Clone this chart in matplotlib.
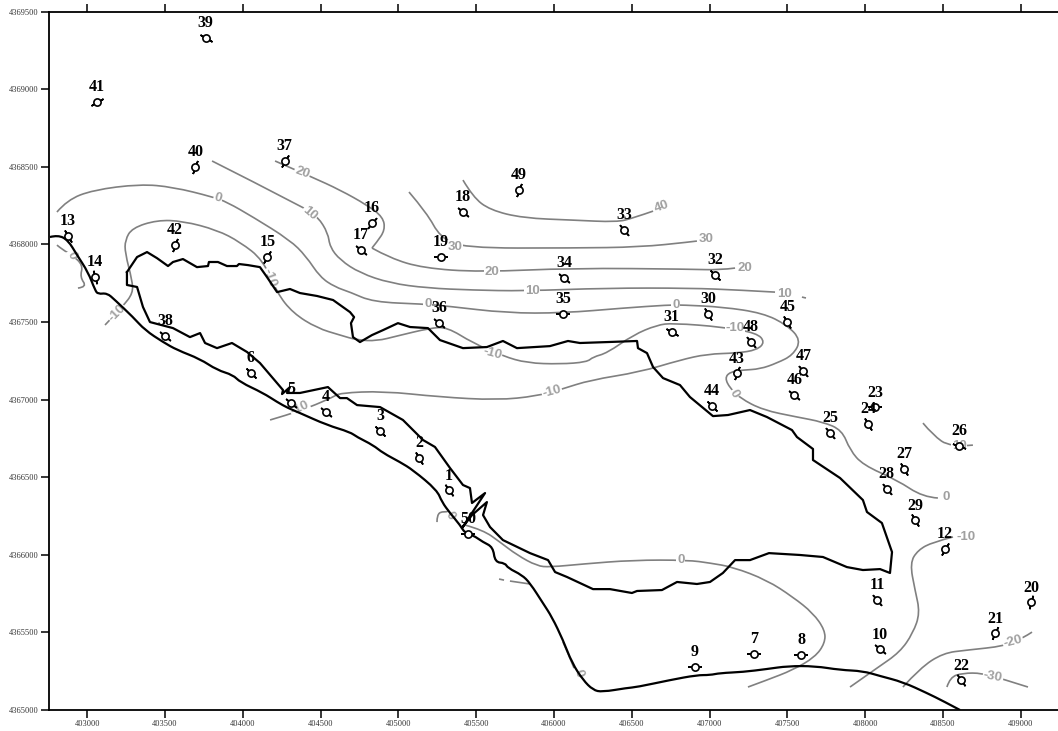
import matplotlib
matplotlib.use('Agg')
import matplotlib.pyplot as plt
from matplotlib.path import Path
from matplotlib.patches import PathPatch

# wells: number, easting, northing, tilt of the well symbol in degrees
well_id = [39, 41, 40, 37, 13, 14, 42, 15, 16, 17, 18, 19, 49, 33, 34, 32, 35, 36, 30, 31, 48, 45, 43, 47, 46,
           44, 25, 24, 23, 26, 27, 28, 29, 12, 11, 10, 20, 21, 22, 7, 8, 9, 50, 1, 2, 3, 4, 5, 6, 38]
well_e = [403760, 403062, 403695, 404268, 402876, 403050, 403564, 404158, 404830, 404759, 405415, 405274, 405772,
          406453, 406064, 407035, 406058, 405260, 406990, 406757, 407264, 407500, 407174, 407603, 407545,
          407016, 407776, 408020, 408063, 408603, 408252, 408139, 408320, 408513, 408078, 408097, 409066,
          408835, 408616, 407288, 407588, 406904, 405447, 405325, 405134, 404881, 404532, 404309, 404050, 403501]
well_n = [4369330, 4368921, 4368502, 4368538, 4368054, 4367790, 4367996, 4367919, 4368138, 4367964, 4368209,
          4367919, 4368351, 4368096, 4367787, 4367803, 4367552, 4367494, 4367552, 4367438, 4367373, 4367502,
          4367170, 4367186, 4367030, 4366959, 4366787, 4366843, 4366951, 4366701, 4366555, 4366424, 4366222,
          4366039, 4365709, 4365391, 4365694, 4365494, 4365191, 4365361, 4365354, 4365279, 4366136, 4366416,
          4366624, 4366798, 4366920, 4366976, 4367174, 4367412]
well_tilt = [60, -60, -20, -30, 30, 15, -20, -30, -40, 50, 50, 90, -20, 40, 50, 45, 90, 50, 30, 60, 40, 30, -20,
             40, 50, 45, 40, 30, 90, 70, 30, 40, 30, -30, 40, 50, -15, -25, 35, 90, 90, 90, 90, 35, 30, 45, 50,
             50, 45, 50]

# shoreline
coast = [(402760, 4368048), (402812, 4368061), (402876, 4368028), (402934, 4367932), (403005, 4367822),
         (403050, 4367706), (403069, 4367680), (403127, 4367687), (403178, 4367642), (403294, 4367532),
         (403371, 4367448), (403487, 4367371), (403577, 4367320), (403725, 4367262), (403834, 4367191),
         (403937, 4367159), (403982, 4367113), (404130, 4367043), (404220, 4366985), (404290, 4366946),
         (404367, 4366914), (404541, 4366836), (404689, 4366791), (404734, 4366759), (404837, 4366707),
         (404901, 4366656), (405010, 4366598), (405094, 4366546), (405248, 4366417), (405280, 4366340),
         (405332, 4366269), (405396, 4366192), (405428, 4366140), (405479, 4366127), (405544, 4366082),
         (405608, 4366050), (405621, 4365953), (405685, 4365947), (405704, 4365915), (405794, 4365870),
         (405846, 4365818), (405929, 4365689), (405987, 4365599), (406058, 4365451), (406116, 4365303),
         (406187, 4365193), (406251, 4365129), (406309, 4365116), (406469, 4365142), (406534, 4365148),
         (406746, 4365193), (406919, 4365225), (407003, 4365225), (407067, 4365238), (407215, 4365245),
         (407369, 4365264), (407504, 4365283), (407678, 4365283), (407839, 4365258), (407986, 4365251),
         (408096, 4365219), (408243, 4365180), (408398, 4365109), (408501, 4365058), (408610, 4365000)]

# lagoon outline, closed
lagoon = [(403255, 4367822), (403320, 4367919), (403384, 4367951), (403448, 4367912), (403519, 4367861),
          (403551, 4367887), (403615, 4367906), (403705, 4367854), (403776, 4367861), (403782, 4367887),
          (403840, 4367887), (403898, 4367861), (403962, 4367861), (403975, 4367874), (404033, 4367867),
          (404110, 4367854), (404155, 4367790), (404220, 4367693), (404303, 4367713), (404367, 4367687),
          (404477, 4367668), (404580, 4367642), (404689, 4367564), (404715, 4367532), (404695, 4367493),
          (404708, 4367403), (404753, 4367371), (404830, 4367416), (404901, 4367448), (404997, 4367493),
          (405075, 4367468), (405190, 4367461), (405267, 4367384), (405415, 4367332), (405569, 4367339),
          (405672, 4367378), (405762, 4367332), (405974, 4367345), (406090, 4367378), (406167, 4367365),
          (406341, 4367371), (406534, 4367378), (406540, 4367332), (406598, 4367300), (406637, 4367210),
          (406701, 4367139), (406810, 4367094), (406874, 4367017), (407022, 4366894), (407119, 4366901),
          (407260, 4366933), (407369, 4366888), (407530, 4366804), (407562, 4366759), (407665, 4366682),
          (407665, 4366611), (407839, 4366495), (407986, 4366353), (408012, 4366276), (408108, 4366205),
          (408173, 4366018), (408160, 4365883), (408096, 4365908), (407986, 4365902), (407883, 4365921),
          (407729, 4365986), (407581, 4365999), (407382, 4366011), (407260, 4365966), (407164, 4365966),
          (407086, 4365883), (407003, 4365825), (406919, 4365812), (406791, 4365825), (406694, 4365773),
          (406534, 4365767), (406501, 4365754), (406360, 4365779), (406251, 4365779), (406084, 4365857),
          (406007, 4365889), (405962, 4365966), (405846, 4366011), (405672, 4366095), (405589, 4366179),
          (405544, 4366256), (405569, 4366340), (405473, 4366256), (405409, 4366173), (405557, 4366398),
          (405473, 4366334), (405460, 4366430), (405415, 4366450), (405332, 4366559), (405235, 4366695),
          (405158, 4366740), (405029, 4366869), (404882, 4366952), (404734, 4366965), (404669, 4367010),
          (404625, 4367010), (404547, 4367081), (404367, 4367043), (404284, 4367043), (404303, 4367081),
          (404252, 4367036), (404258, 4367062), (404110, 4367236), (404027, 4367307), (403930, 4367365),
          (403834, 4367332), (403757, 4367365), (403725, 4367429), (403660, 4367403), (403551, 4367461),
          (403403, 4367500), (403358, 4367597), (403320, 4367726), (403255, 4367739), (403255, 4367822)]

# contour lines
level_0_north = [(402805, 4368209), (402870, 4368286), (403037, 4368351), (403339, 4368389), (403551, 4368370),
                 (403808, 4368306), (403898, 4368273), (404065, 4368177), (404303, 4368028), (404406, 4367925),
                 (404496, 4367790), (404592, 4367726), (404689, 4367693), (404837, 4367629), (405158, 4367616),
                 (405312, 4367603), (405698, 4367558), (406058, 4367558), (406444, 4367590), (406733, 4367610),
                 (406829, 4367610), (407086, 4367597), (407343, 4367558), (407498, 4367481), (407588, 4367384),
                 (407536, 4367287), (407434, 4367236), (407324, 4367197), (407215, 4367191), (407131, 4367178),
                 (407099, 4367139), (407131, 4367075), (407196, 4367010), (407343, 4366933), (407562, 4366888),
                 (407729, 4366856), (407851, 4366804), (407903, 4366675), (407986, 4366579), (408205, 4366482),
                 (408372, 4366372), (408468, 4366366)]
level_0_south = [(405428, 4366192), (405544, 4366160), (405653, 4366082), (405762, 4365999), (405891, 4365928),
                 (405974, 4365921), (406187, 4365941), (406508, 4365966), (406861, 4365966), (407003, 4365947),
                 (407151, 4365921), (407369, 4365837), (407536, 4365728), (407665, 4365625), (407742, 4365515),
                 (407742, 4365431), (407678, 4365341), (407536, 4365258), (407369, 4365193), (407247, 4365148)]
level_0_west = [(402805, 4367996), (402844, 4367964), (402902, 4367932), (402973, 4367867), (402953, 4367790),
                (402998, 4367726), (402940, 4367719)]
level_0_bay = [(405248, 4366211), (405248, 4366256), (405280, 4366282), (405332, 4366276)]
level_0_shore = [(406058, 4365438), (406090, 4365367), (406129, 4365270)]
level_0_dash1 = [(405647, 4365844), (405679, 4365837)]
level_0_dash2 = [(405717, 4365831), (405846, 4365812)]
level_10 = [(403802, 4368538), (404400, 4368235), (404483, 4368177), (404547, 4368074), (404560, 4367983),
            (404625, 4367900), (404753, 4367816), (404946, 4367751), (405184, 4367719), (405479, 4367706),
            (405801, 4367700), (406341, 4367719), (406874, 4367719), (407196, 4367706), (407421, 4367693)]
level_10_dash = [(407594, 4367661), (407620, 4367655)]
level_10_east = [(408372, 4366849), (408436, 4366772), (408546, 4366694), (408693, 4366707)]
level_20_upper = [(404207, 4368538), (404445, 4368434), (404625, 4368351), (404798, 4368254), (404901, 4368177),
                  (404914, 4368093), (404862, 4368016), (404830, 4367977)]
level_20_lower = [(404830, 4367977), (404946, 4367912), (405158, 4367848), (405524, 4367822), (406122, 4367848),
                  (406874, 4367841), (407067, 4367835), (407164, 4367848)]
level_30 = [(405068, 4368338), (405184, 4368202), (405267, 4368048), (405415, 4367977), (406122, 4367977),
            (406553, 4367983), (406874, 4368016), (406919, 4368022)]
level_40 = [(405415, 4368415), (405479, 4368306), (405589, 4368222), (405801, 4368170), (406122, 4368157),
            (406405, 4368144), (406508, 4368170), (406637, 4368215)]
level_m10 = [(403114, 4367481), (403230, 4367603), (403294, 4367687), (403288, 4367771), (403243, 4367945),
             (403243, 4368028), (403288, 4368106), (403448, 4368157), (403615, 4368151), (403834, 4368093),
             (403982, 4368016), (404130, 4367900), (404220, 4367687), (404322, 4367558), (404477, 4367461),
             (404625, 4367416), (404734, 4367384), (404862, 4367378), (404991, 4367410), (405203, 4367461),
             (405312, 4367468), (405479, 4367365), (405672, 4367281), (405826, 4367236), (406039, 4367229),
             (406212, 4367242), (406251, 4367275), (406341, 4367300), (406508, 4367416), (406662, 4367481),
             (406765, 4367493), (407086, 4367468), (407305, 4367429), (407356, 4367371), (407305, 4367320),
             (407176, 4367300), (406984, 4367294), (406810, 4367255), (406553, 4367178), (406232, 4367126),
             (406052, 4367068), (405891, 4367023), (405634, 4366997), (405267, 4367017), (404901, 4367055),
             (404625, 4367043), (404580, 4367017), (404432, 4366952), (404284, 4366901), (404175, 4366869)]
level_m10_east = [(407903, 4365148), (408076, 4365270), (408224, 4365373), (408308, 4365496), (408353, 4365625),
                  (408321, 4365773), (408288, 4365947), (408340, 4366031), (408436, 4366082), (408565, 4366115)]
level_m20 = [(408243, 4365148), (408353, 4365270), (408501, 4365367), (408655, 4365386), (408899, 4365412),
             (409015, 4365464), (409073, 4365502)]
level_m30 = [(408526, 4365148), (408546, 4365212), (408629, 4365238), (408751, 4365238), (408886, 4365199),
             (409047, 4365148)]

contours = [level_0_north, level_0_south, level_0_west, level_0_bay, level_0_shore, level_0_dash1, level_0_dash2,
            level_10, level_10_dash, level_10_east, level_20_upper, level_20_lower, level_30, level_40, level_m10,
            level_m10_east, level_m20, level_m30]

# contour labels
label_text = ['0', '0', '0', '0', '0', '0', '0', '0', '0', '10', '10', '10', '10', '20', '20', '20', '30', '30',
              '40', '-10', '-10', '-10', '-10', '-10', '-10', '-10', '-20', '-30']
label_e = [403840, 405190, 406784, 407157, 408520, 406816, 402902, 405332, 406155, 404432, 405859, 407479, 408604,
           404380, 405602, 407228, 405364, 406977, 406694, 403191, 404175, 405602, 407164, 405987, 404367, 408648,
           408951, 408822]
label_n = [4368299, 4367616, 4367610, 4367036, 4366372, 4365966, 4367932, 4366250, 4365238, 4368202, 4367700,
           4367680, 4366701, 4368460, 4367822, 4367848, 4367983, 4368035, 4368241, 4367558, 4367784, 4367300,
           4367461, 4367049, 4366946, 4366115, 4365438, 4365212]
label_rot = [-15, 0, 0, -60, 0, 0, -70, -60, -70, -40, 0, 0, 0, -20, 0, 0, 0, 0, 20, 45, -70, -15, 0, 15, 25, 0,
             15, -10]

x_ticks = [403000, 403500, 404000, 404500, 405000, 405500, 406000, 406500, 407000, 407500, 408000, 408500, 409000]
y_ticks = [4365000, 4365500, 4366000, 4366500, 4367000, 4367500, 4368000, 4368500, 4369000, 4369500]


# rounded line: the points are quadratic bezier control points
def curve(points):
    verts = [points[0]]
    codes = [Path.MOVETO]
    for i in range(1, len(points) - 1):
        a, b = points[i], points[i + 1]
        end = b if i == len(points) - 2 else ((a[0] + b[0]) / 2, (a[1] + b[1]) / 2)
        verts += [a, end]
        codes += [Path.CURVE3, Path.CURVE3]
    if len(points) == 2:
        verts.append(points[1])
        codes.append(Path.LINETO)
    return Path(verts, codes)


W, H = 1058, 731
fig = plt.figure(figsize=(W / 100, H / 100), dpi=100)
ax = fig.add_axes([48.7 / W, 1 - 710 / H, (W - 48.7) / W, (710 - 11.7) / H])
ax.set_xlim(402752, 409240)
ax.set_ylim(4365000, 4369500)

for line in contours:
    ax.add_patch(PathPatch(curve(line), fc='none', ec='#808080', lw=1.2, zorder=1))

for t, e, n, r in zip(label_text, label_e, label_n, label_rot):
    ax.text(e, n, t, color='#a0a0a0', fontsize=9.5, fontweight='bold', family='Liberation Sans', rotation=r,
            rotation_mode='anchor', ha='center', va='center', zorder=1.5,
            bbox=dict(fc='white', ec='none', pad=0.6))

ax.add_patch(PathPatch(curve(coast), fc='none', ec='black', lw=1.6, zorder=3))
ax.plot([p[0] for p in lagoon], [p[1] for p in lagoon], color='black', lw=1.6, zorder=3)

for num, e, n, tilt in zip(well_id, well_e, well_n, well_tilt):
    ax.plot(e, n, marker=(2, 2, tilt), ms=10, mew=1.2, color='black', zorder=4)
    ax.plot(e, n, marker='o', ms=5.2, mfc='white', mec='black', mew=1.2, zorder=5)
    ax.annotate(str(num), (e, n), xytext=(0, 10.6), textcoords='offset points', ha='center', va='center',
                fontsize=11.5, fontweight='bold', family='Liberation Serif', color='black', zorder=6)

ax.set_xticks(x_ticks)
ax.set_yticks(y_ticks)
ax.set_xticklabels([str(v) for v in x_ticks])
ax.set_yticklabels([str(v) for v in y_ticks])
ax.tick_params(axis='both', direction='out', length=6, width=1.1, labelsize=6, labelcolor='#333333', pad=1.5)
ax.tick_params(axis='x', top=True)
for lab in ax.get_xticklabels() + ax.get_yticklabels():
    lab.set_family('Liberation Serif')

ax.spines['right'].set_visible(False)
for side in ['left', 'top', 'bottom']:
    ax.spines[side].set_linewidth(1.3)

fig.savefig('out.png', dpi=100)
